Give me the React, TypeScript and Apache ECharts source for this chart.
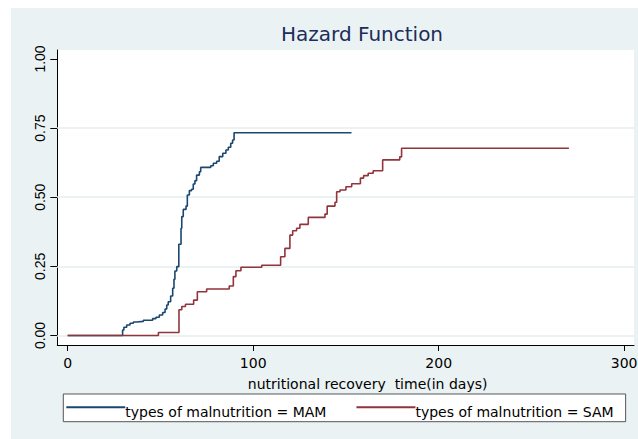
import React, { useEffect, useRef } from "react";
import * as echarts from "echarts";

const titleText = "Hazard Function";
const xAxisTitle = "nutritional recovery  time(in days)";
const seriesNames = ["types of malnutrition = MAM", "types of malnutrition = SAM"];
const xTicks = [0, 100, 200, 300];
const yTicks = [0, 0.25, 0.5, 0.75, 1];
const gridValues = [0, 0.25, 0.5, 0.75];

const mamTime = [0, 29.6, 30.3, 31.8, 33.6, 35.4, 37.2, 40.8, 45.8, 47.6, 49.4, 51.2, 52.5, 53.4, 54.2, 55.5, 56.6, 57.3, 57.8, 58.8, 59.9, 61.1, 61.5, 62.3, 63.8, 64.5, 65.6, 66.8, 67.7, 68.6, 69.5, 71.0, 71.7, 77.1, 78.5, 80.3, 81.7, 83.6, 85.3, 86.6, 87.9, 88.9, 89.7, 153];
const mamHazard = [0, 0.02, 0.03, 0.038, 0.044, 0.049, 0.051, 0.055, 0.061, 0.066, 0.074, 0.083, 0.096, 0.11, 0.122, 0.143, 0.171, 0.203, 0.233, 0.249, 0.33, 0.388, 0.43, 0.456, 0.468, 0.508, 0.524, 0.529, 0.548, 0.56, 0.58, 0.592, 0.608, 0.614, 0.623, 0.63, 0.647, 0.659, 0.671, 0.681, 0.695, 0.707, 0.733, 0.733];

const samTime = [0, 48.9, 60.0, 61.5, 63.5, 67.9, 69.9, 74.9, 87.1, 89.3, 90.7, 93.4, 104.6, 114.8, 117.1, 119.8, 121.3, 123.4, 125.2, 129.7, 138.7, 139.9, 144.1, 145.0, 146.8, 150.0, 153.1, 157.8, 159.5, 162.0, 164.7, 169.8, 179.0, 180.0, 270.2];
const samHazard = [0, 0.011, 0.093, 0.105, 0.113, 0.128, 0.158, 0.168, 0.179, 0.213, 0.234, 0.247, 0.254, 0.285, 0.315, 0.363, 0.379, 0.388, 0.402, 0.427, 0.439, 0.468, 0.482, 0.52, 0.526, 0.538, 0.549, 0.569, 0.578, 0.587, 0.596, 0.635, 0.646, 0.677, 0.677];

const colors = ["#1a476f", "#90353b"];

const zip = (a: number[], b: number[]) => a.map((v, i) => [v, b[i]]);

export default function App() {
  const ref = useRef<HTMLDivElement>(null);
  useEffect(() => {
    if (!ref.current) return;
    const chart = echarts.init(ref.current, undefined, { renderer: "svg" });
    chart.setOption({
      animation: false,
      backgroundColor: "transparent",
      graphic: [
        {
          type: "rect",
          z: -10,
          silent: true,
          shape: { x: 11, y: 8, width: 627, height: 431 },
          style: { fill: "#eaf2f3" },
        },
      ],
      title: {
        text: titleText,
        left: 281,
        top: 24,
        padding: 0,
        textStyle: { fontFamily: "DejaVu Sans", fontSize: 20, fontWeight: "normal", color: "#1c2d5b" },
      },
      grid: {
        left: 57.3,
        right: 4,
        top: 50,
        bottom: 94,
        show: true,
        backgroundColor: "#ffffff",
        borderWidth: 0,
        containLabel: false,
        outerBoundsMode: "none",
      },
      legend: {
        data: seriesNames,
        left: 63.3,
        top: 394,
        orient: "horizontal",
        icon: "rect",
        itemWidth: 59,
        itemHeight: 2,
        itemGap: 30,
        padding: [1.3, 12, 2.4, 3],
        backgroundColor: "#ffffff",
        borderColor: "#555555",
        borderWidth: 1,
        borderRadius: 0,
        formatter: "{a|{name}}",
        textStyle: {
          fontFamily: "DejaVu Sans",
          fontSize: 14,
          color: "#000",
          rich: {
            a: { fontFamily: "DejaVu Sans", fontSize: 14, color: "#000", lineHeight: 14, padding: [10, 0, 0, -5] },
          },
        },
      },
      xAxis: {
        type: "value",
        min: -5.6,
        max: 305.3,
        name: xAxisTitle,
        nameLocation: "middle",
        nameGap: 32,
        nameTextStyle: { fontFamily: "DejaVu Sans", fontSize: 14, color: "#000", padding: [0, 0, 0, 44] },
        axisLine: { show: true, onZero: false, lineStyle: { color: "#000", width: 1 } },
        axisTick: { show: true, length: 6, customValues: xTicks, lineStyle: { color: "#000" } },
        axisLabel: { customValues: xTicks, margin: 11, fontFamily: "DejaVu Sans", fontSize: 14, color: "#000" },
        splitLine: { show: false },
      },
      yAxis: {
        type: "value",
        min: -0.0344,
        max: 1.0325,
        axisLine: { show: true, onZero: false, lineStyle: { color: "#000", width: 1 } },
        axisTick: { show: true, length: 7, customValues: yTicks, lineStyle: { color: "#000" } },
        axisLabel: {
          customValues: yTicks,
          rotate: 90,
          margin: 10,
          fontFamily: "Liberation Sans",
          fontSize: 14,
          color: "#000",
          formatter: (v: number) => v.toFixed(2),
        },
        splitLine: { show: false },
      },
      series: [
        {
          name: "gridlines",
          type: "line",
          data: [],
          z: 1,
          silent: true,
          markLine: {
            z: 1,
            silent: true,
            symbol: ["none", "none"],
            label: { show: false },
            lineStyle: { color: "#eaf2f3", width: 2, type: "solid" },
            data: gridValues.map((v) => ({ yAxis: v })),
          },
        },
        {
          name: seriesNames[0],
          type: "line",
          step: "end",
          z: 3,
          symbol: "none",
          color: colors[0],
          lineStyle: { color: colors[0], width: 1.6 },
          data: zip(mamTime, mamHazard),
        },
        {
          name: seriesNames[1],
          type: "line",
          step: "end",
          z: 4,
          symbol: "none",
          color: colors[1],
          lineStyle: { color: colors[1], width: 1.6 },
          data: zip(samTime, samHazard),
        },
      ],
    });
    return () => chart.dispose();
  }, []);
  return (
    <div
      ref={ref}
      style={{ position: "absolute", left: 0, top: 0, width: 638, height: 439 }}
    />
  );
}
